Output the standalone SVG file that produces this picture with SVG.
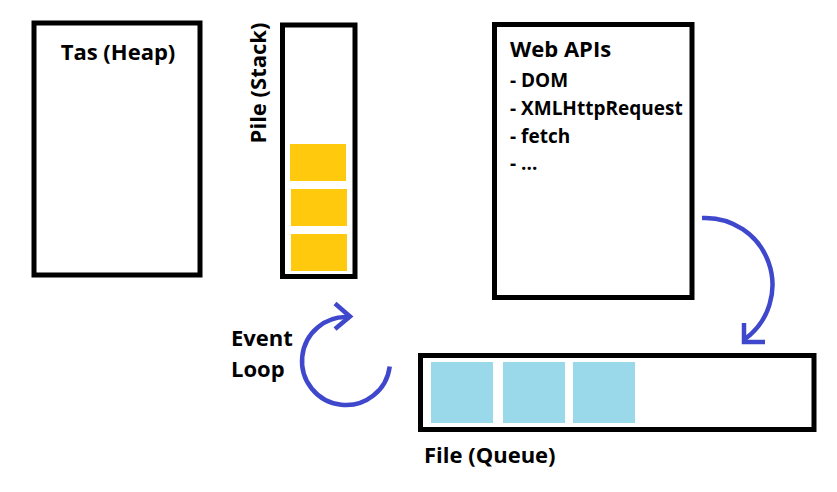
<svg xmlns="http://www.w3.org/2000/svg" width="837" height="492" viewBox="0 0 837 492">
  <defs>
    <style>
      .box { fill: #ffffff; stroke: #000000; stroke-width: 5; }
      .stackItem { fill: #FFC90E; }
      .queueItem { fill: #99D9EA; }
      .lbl { font-family: "Open Sans", "Liberation Sans", sans-serif; font-weight: bold; font-size: 22px; fill: #000000; }
      .lst { font-family: "Open Sans", "Liberation Sans", sans-serif; font-weight: bold; font-size: 19px; fill: #000000; }
      .arc { fill: none; stroke: #3F48CC; stroke-width: 4.5; stroke-linecap: butt; stroke-linejoin: miter; }
    </style>
  </defs>
  <rect width="837" height="492" fill="#ffffff"/>

  <g id="heap">
    <rect class="box" x="34" y="23" width="166" height="252"/>
    <text class="lbl" x="118" y="60" text-anchor="middle">Tas (Heap)</text>
  </g>

  <g id="stack">
    <rect class="box" x="282.5" y="25" width="72.5" height="251.5"/>
    <rect class="stackItem" x="290" y="144" width="56" height="37"/>
    <rect class="stackItem" x="291" y="189" width="56" height="37"/>
    <rect class="stackItem" x="291" y="234" width="56" height="37"/>
    <text class="lbl" transform="translate(266 83) rotate(-90)" text-anchor="middle">Pile (Stack)</text>
  </g>

  <g id="webapis">
    <rect class="box" x="494.5" y="24.5" width="197.5" height="273"/>
    <text class="lbl" x="510" y="57">Web APIs</text>
    <text class="lst" x="510" y="87">- DOM</text>
    <text class="lst" x="510" y="115">- XMLHttpRequest</text>
    <text class="lst" x="510" y="143">- fetch</text>
    <text class="lst" x="510" y="170">- ...</text>
  </g>

  <g id="queue">
    <rect class="box" x="420.5" y="355.5" width="393.5" height="74"/>
    <rect class="queueItem" x="431" y="362" width="62" height="61"/>
    <rect class="queueItem" x="503" y="362" width="62" height="61"/>
    <rect class="queueItem" x="573" y="362" width="62" height="61"/>
    <text class="lbl" x="424" y="463">File (Queue)</text>
  </g>

  <g id="eventloop">
    <text class="lbl" x="231" y="346">Event</text>
    <text class="lbl" x="231" y="377">Loop</text>
  </g>

  <g id="connectors">
    <path class="arc" d="M 389.7 366.4 A 44 44 0 1 1 349.8 317.2"/>
    <polyline class="arc" points="335,303.5 350,316.5 335,329"/>
    <path class="arc" d="M 702 218 A 67 67 0 0 1 745 339"/>
    <polyline class="arc" points="744,323 744,342 765,342"/>
  </g>
</svg>
